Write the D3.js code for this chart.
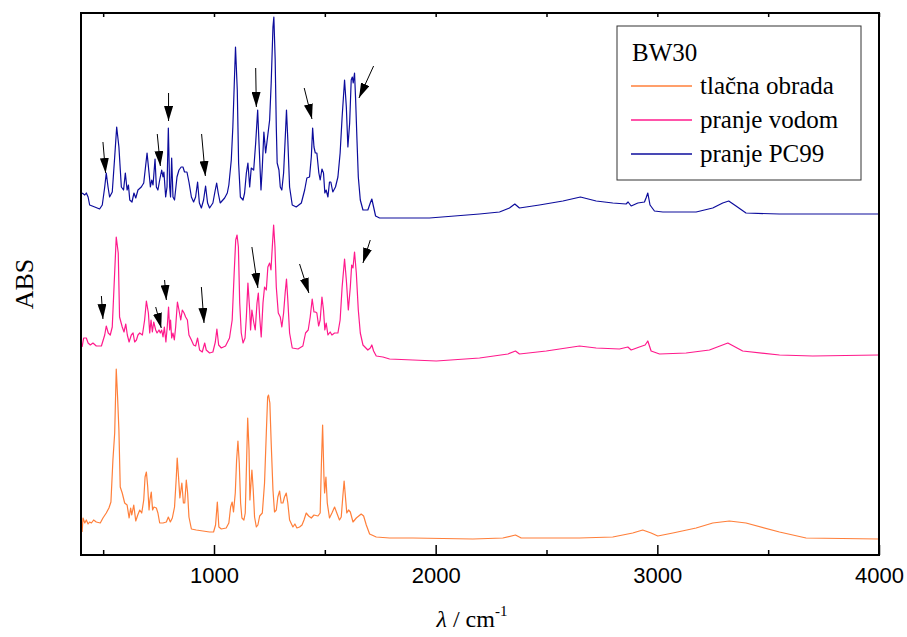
<!DOCTYPE html>
<html>
<head>
<meta charset="utf-8">
<script src="https://cdn.jsdelivr.net/npm/d3@7"></script>
<style>
  body { margin: 0; background: #fff; }
  svg { display: block; }
  .serif { font-family: 'Liberation Serif', 'DejaVu Serif', serif; }
  .sans { font-family: 'Liberation Sans', Arial, sans-serif; }
</style>
</head>
<body>
<svg id="chart" width="907" height="637"></svg>
<script>
// [wavenumber cm-1, absorbance a.u.] (spectra already offset)
const tlacnaObrada = [
  [405,23],[409,37],[417,32],[424,35],[432,31],[439,33],[447,32],[457,35],[469,33],[487,32],
  [499,37],[514,42],[526,47],[535,53],[544,95],[552,122],[559,186],[565,158],[571,125],[577,68],
  [586,62],[597,52],[608,50],[617,37],[624,47],[629,40],[638,50],[647,34],[656,40],[665,45],
  [674,42],[683,55],[689,78],[695,83],[701,68],[707,45],[711,55],[717,63],[723,45],[729,48],
  [740,47],[747,42],[755,32],[770,32],[785,33],[794,38],[803,33],[812,37],[822,48],[830,78],
  [834,97],[840,78],[846,57],[855,72],[862,52],[868,52],[875,75],[881,62],[887,38],[898,26],
  [920,25],[950,24],[980,23],[998,23],[1007,30],[1015,53],[1022,28],[1033,26],[1055,27],[1067,32],
  [1075,48],[1082,53],[1088,43],[1096,62],[1102,95],[1108,114],[1114,92],[1120,52],[1126,37],[1135,35],
  [1141,42],[1146,85],[1152,137],[1158,105],[1162,55],[1167,72],[1171,85],[1177,65],[1183,38],[1191,28],
  [1198,30],[1206,39],[1218,42],[1228,72],[1236,122],[1242,158],[1246,160],[1252,152],[1258,112],[1266,65],
  [1273,43],[1281,45],[1288,58],[1296,64],[1303,52],[1311,52],[1318,58],[1326,62],[1333,52],[1341,35],
  [1356,28],[1365,31],[1374,27],[1386,28],[1397,30],[1406,35],[1416,42],[1427,39],[1439,37],[1451,40],
  [1469,39],[1479,42],[1485,95],[1490,130],[1496,78],[1499,62],[1505,78],[1511,52],[1521,37],[1532,42],
  [1544,48],[1554,42],[1566,35],[1574,38],[1581,58],[1587,74],[1593,58],[1599,42],[1607,45],[1615,43],
  [1627,33],[1642,37],[1664,41],[1675,39],[1687,30],[1702,21],[1732,18],[1792,17],[1897,17],[2168,16],
  [2303,17],[2360,20],[2386,17],[2649,17],[2799,18],[2889,22],[2934,25],[2972,22],[3002,19],[3070,22],
  [3175,27],[3250,32],[3325,34],[3400,32],[3551,23],[3671,17],[3997,16]
];

const pranjeVodom = [
  [405,208],[412,217],[424,217],[432,212],[442,210],[454,212],[469,209],[492,209],[507,220],[514,229],
  [523,222],[532,220],[541,228],[549,268],[559,318],[568,302],[574,238],[586,228],[594,223],[602,231],
  [609,220],[617,213],[627,220],[635,222],[642,213],[650,215],[657,220],[665,222],[677,220],[687,235],
  [695,254],[704,242],[710,222],[716,235],[722,223],[728,233],[737,225],[743,222],[752,225],[758,222],
  [764,225],[770,218],[776,228],[783,213],[789,228],[795,248],[800,225],[804,235],[809,217],[815,222],
  [821,215],[827,228],[835,253],[842,245],[850,235],[857,245],[865,242],[872,238],[880,235],[887,220],
  [898,215],[908,210],[917,209],[926,217],[935,205],[947,203],[958,212],[965,205],[980,202],[995,203],
  [1006,213],[1013,226],[1021,210],[1033,207],[1052,209],[1070,217],[1082,235],[1091,282],[1098,315],[1104,320],
  [1110,308],[1116,252],[1123,222],[1131,212],[1140,217],[1146,238],[1153,272],[1161,245],[1165,225],[1171,245],
  [1179,233],[1186,225],[1194,252],[1200,262],[1206,238],[1213,218],[1221,252],[1228,268],[1236,265],[1243,288],
  [1251,292],[1257,285],[1263,308],[1269,330],[1275,308],[1281,268],[1290,242],[1299,238],[1306,228],[1314,242],
  [1321,262],[1327,276],[1333,255],[1341,222],[1353,207],[1379,206],[1401,209],[1413,222],[1425,225],[1434,238],
  [1443,256],[1451,243],[1458,243],[1464,242],[1472,229],[1479,235],[1487,258],[1494,245],[1500,225],[1506,232],
  [1514,220],[1524,223],[1532,220],[1544,222],[1559,222],[1569,235],[1578,268],[1589,296],[1597,275],[1606,245],
  [1615,268],[1621,290],[1627,287],[1634,303],[1642,282],[1651,245],[1660,222],[1672,210],[1694,205],[1705,207],
  [1712,210],[1720,204],[1732,199],[1762,198],[1792,196],[2003,194],[2198,197],[2326,201],[2360,204],[2378,201],
  [2499,204],[2649,209],[2724,207],[2829,206],[2867,208],[2882,205],[2919,208],[2945,210],[2957,214],[2972,204],
  [3010,201],[3130,202],[3235,205],[3318,212],[3385,204],[3551,200],[3701,199],[3997,200]
];

const pranjePC99 = [
  [405,362],[417,360],[424,362],[432,358],[439,350],[462,348],[484,346],[496,350],[507,368],[514,382],
  [522,368],[529,358],[541,363],[552,398],[561,428],[571,408],[582,368],[592,365],[600,382],[608,365],
  [614,370],[620,355],[630,353],[639,362],[647,357],[657,365],[672,368],[683,372],[698,402],[707,382],
  [713,368],[719,375],[725,370],[734,396],[740,368],[747,365],[755,375],[764,385],[770,378],[774,383],
  [782,358],[788,368],[794,427],[800,368],[804,358],[809,397],[815,358],[822,355],[833,378],[842,385],
  [852,388],[860,388],[867,383],[878,383],[887,373],[898,358],[908,353],[917,358],[926,373],[934,352],
  [943,347],[953,355],[962,369],[971,352],[980,347],[995,352],[1004,363],[1012,372],[1019,362],[1028,352],
  [1048,357],[1060,362],[1067,370],[1078,395],[1085,428],[1091,468],[1097,508],[1105,465],[1111,392],[1119,358],
  [1131,355],[1138,362],[1146,382],[1153,392],[1161,368],[1168,387],[1179,385],[1188,412],[1197,445],[1203,412],
  [1212,365],[1218,388],[1225,423],[1233,402],[1240,415],[1251,435],[1258,472],[1266,528],[1270,538],[1276,495],
  [1281,428],[1285,392],[1293,385],[1299,368],[1306,365],[1314,382],[1323,425],[1327,445],[1333,415],[1341,368],
  [1353,350],[1371,348],[1394,352],[1409,365],[1419,377],[1431,378],[1439,398],[1445,427],[1451,408],[1457,402],
  [1464,402],[1473,382],[1479,375],[1487,386],[1494,382],[1500,362],[1506,365],[1514,358],[1521,373],[1527,373],
  [1536,363],[1548,368],[1559,378],[1569,402],[1578,438],[1589,475],[1597,448],[1604,408],[1612,432],[1619,475],
  [1624,478],[1628,472],[1634,482],[1639,455],[1645,415],[1651,378],[1660,355],[1672,345],[1694,345],[1705,352],
  [1712,356],[1720,348],[1729,339],[1747,337],[1972,337],[2198,341],[2288,343],[2333,347],[2357,351],[2378,347],
  [2468,350],[2574,354],[2653,358],[2724,354],[2799,352],[2859,351],[2868,353],[2882,349],[2912,352],[2942,353],
  [2949,357],[2957,362],[2967,350],[2987,344],[3025,343],[3175,343],[3250,347],[3295,352],[3322,354],[3355,349],
  [3400,342],[3551,341],[3997,341]
];

// arrows marking peaks: [tail wn, tail abs, tip wn, tip abs]
const arrowsPC99 = [
  [499,413,511,382],[744,421,758,389],[795,462,795,434],[944,421,961,379],
  [1188,487,1191,448],[1407,467,1442,436],[1720,489,1654,457]
];
const arrowsVodom = [
  [492,259,499,236],[737,248,762,227],[777,275,785,255],[943,268,955,232],
  [1171,308,1198,267],[1386,291,1428,262],[1705,315,1672,292]
];

const seriesNames = ['tlačna obrada', 'pranje vodom', 'pranje PC99'];
const seriesColors = ['#ff7f3a', '#ff1a8c', '#0c0c9c'];
const majorTicks = [1000, 2000, 3000, 4000];
const minorTicks = [500, 1500, 2500, 3500];

const width = 907, height = 637;
const margin = {top: 13, right: 28, bottom: 82, left: 81};
const svg = d3.select('#chart');

const x = d3.scaleLinear()
  .domain([400, 4000])
  .range([margin.left, width - margin.right]);

const y = d3.scaleLinear()
  .domain([0, 542])
  .range([height - margin.bottom, margin.top]);

const line = d3.line()
  .x(d => x(d[0]))
  .y(d => y(d[1]));

// spectra
const plot = svg.append('g');
[tlacnaObrada, pranjeVodom, pranjePC99].forEach((s, i) => {
  plot.append('path')
    .datum(s)
    .attr('fill', 'none')
    .attr('stroke', seriesColors[i])
    .attr('stroke-width', 1.2)
    .attr('stroke-linejoin', 'round')
    .attr('d', line);
});

// arrowheads
svg.append('defs')
  .append('marker')
  .attr('id', 'head')
  .attr('markerUnits', 'userSpaceOnUse')
  .attr('viewBox', '0 0 15 9')
  .attr('refX', 15)
  .attr('refY', 4.5)
  .attr('markerWidth', 15)
  .attr('markerHeight', 9)
  .attr('orient', 'auto')
  .append('path')
  .attr('d', 'M0,0L15,4.5L0,9Z')
  .attr('fill', '#000');

svg.append('g')
  .selectAll('line')
  .data(arrowsPC99.concat(arrowsVodom))
  .join('line')
  .attr('x1', d => x(d[0]))
  .attr('y1', d => y(d[1]))
  .attr('x2', d => x(d[2]))
  .attr('y2', d => y(d[3]))
  .attr('stroke', '#000')
  .attr('stroke-width', 1)
  .attr('marker-end', 'url(#head)');

// axes
const yBase = height - margin.bottom;
const bottom = svg.append('g')
  .attr('transform', `translate(0,${yBase})`)
  .call(d3.axisBottom(x).tickValues(majorTicks).tickSize(-10).tickPadding(12).tickFormat(d3.format('d')));
bottom.attr('font-family', null).attr('font-size', null);
bottom.selectAll('text')
  .attr('class', 'sans')
  .attr('font-size', 22)
  .attr('fill', '#000');

svg.append('g')
  .attr('transform', `translate(0,${yBase})`)
  .call(d3.axisBottom(x).tickValues(minorTicks).tickSize(-5).tickFormat(''));

svg.append('g')
  .attr('transform', `translate(0,${margin.top})`)
  .call(d3.axisTop(x).tickValues(majorTicks.concat(minorTicks)).tickSize(-4).tickFormat(''));

svg.selectAll('.domain').remove();
svg.selectAll('.tick line').attr('stroke', '#000').attr('stroke-width', 1.5);

svg.append('rect')
  .attr('x', margin.left)
  .attr('y', margin.top)
  .attr('width', width - margin.left - margin.right)
  .attr('height', height - margin.top - margin.bottom)
  .attr('fill', 'none')
  .attr('stroke', '#000')
  .attr('stroke-width', 2);

// axis titles
svg.append('text')
  .attr('class', 'serif')
  .attr('transform', `translate(33,${(margin.top + yBase) / 2}) rotate(-90)`)
  .attr('text-anchor', 'middle')
  .attr('font-size', 26)
  .text('ABS');

const xt = svg.append('text')
  .attr('class', 'serif')
  .attr('x', 472)
  .attr('y', 627)
  .attr('text-anchor', 'middle')
  .attr('font-size', 24);
xt.append('tspan').attr('font-style', 'italic').text('λ');
xt.append('tspan').text(' / cm');
xt.append('tspan').attr('font-size', 15).attr('dy', -11).text('-1');

// legend
const lg = svg.append('g').attr('transform', 'translate(617,26)');
lg.append('rect')
  .attr('width', 244)
  .attr('height', 154)
  .attr('fill', '#fff')
  .attr('stroke', '#333')
  .attr('stroke-width', 1);
lg.append('text')
  .attr('class', 'serif')
  .attr('x', 15)
  .attr('y', 35)
  .attr('font-size', 25)
  .text('BW30');
const items = lg.selectAll('g.item')
  .data(seriesNames)
  .join('g')
  .attr('class', 'item')
  .attr('transform', (_, i) => `translate(0,${60 + i * 34})`);
items.append('line')
  .attr('x1', 14).attr('x2', 75)
  .attr('stroke', (_, i) => seriesColors[i])
  .attr('stroke-width', 1.5);
items.append('text')
  .attr('class', 'serif')
  .attr('x', 83)
  .attr('y', 8)
  .attr('font-size', 25)
  .text(d => d);
</script>
</body>
</html>
